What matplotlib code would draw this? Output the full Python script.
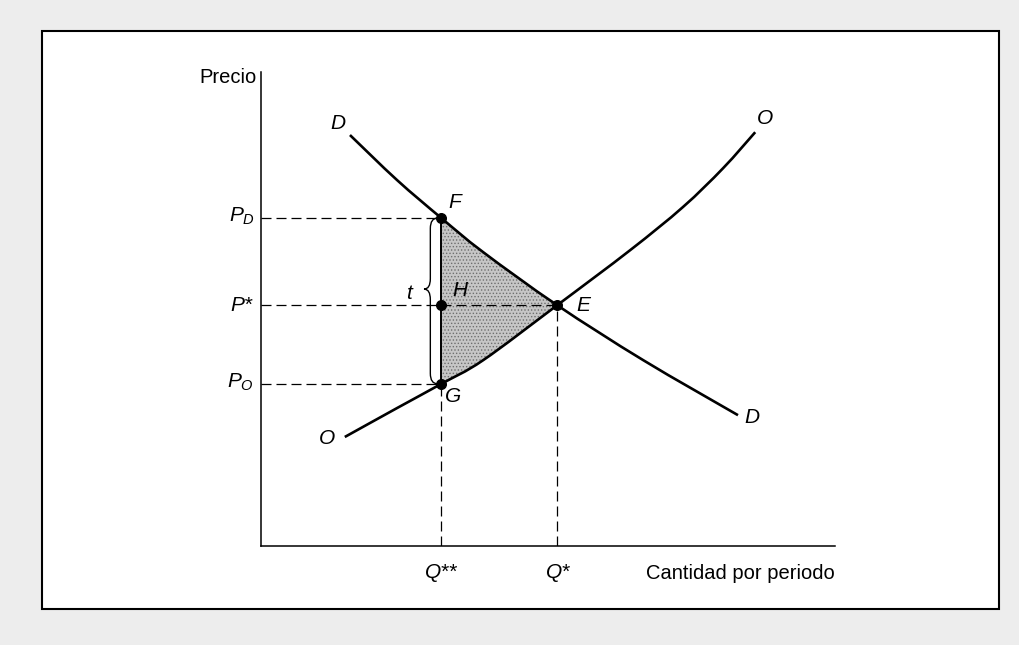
import numpy as np
import matplotlib
matplotlib.use("Agg")
import matplotlib.pyplot as plt
from matplotlib.patches import Rectangle, PathPatch, Polygon
from matplotlib.path import Path

plt.rcParams['font.family'] = ['Liberation Sans', 'DejaVu Sans']
plt.rcParams['mathtext.fontset'] = 'custom'
plt.rcParams['mathtext.rm'] = 'Liberation Sans'
plt.rcParams['mathtext.it'] = 'Liberation Sans:italic'
plt.rcParams['hatch.linewidth'] = 0.6

# curves (quantity, price), axes run 0..10
demand_q = [1.55, 2.37, 3.14, 3.87, 5.16, 6.66, 8.31]
demand_p = [8.67, 7.72, 6.92, 6.20, 5.08, 3.92, 2.76]
supply_q = [1.46, 2.37, 3.14, 3.87, 5.16, 6.43, 7.35, 8.05, 8.61]
supply_p = [2.30, 2.91, 3.42, 3.92, 5.08, 6.24, 7.15, 7.97, 8.73]

q_tax = 3.14     # Q**
q_eq = 5.16      # Q*
p_dem = 6.92     # P_D
p_eq = 5.08      # P*
p_sup = 3.42     # P_O


def smooth_path(qs, ps):
    # bezier path through the read points (catmull-rom handles)
    pts = np.column_stack([qs, ps])
    n = len(pts)
    verts = [pts[0]]
    codes = [Path.MOVETO]
    for i in range(n - 1):
        p0 = pts[max(i - 1, 0)]
        p1, p2 = pts[i], pts[i + 1]
        p3 = pts[min(i + 2, n - 1)]
        verts += [p1 + (p2 - p0) / 6, p2 - (p3 - p1) / 6, p2]
        codes += [Path.CURVE4] * 3
    return Path(verts, codes)


fig = plt.figure(figsize=(10.2, 6.45), dpi=100, facecolor='#ededed')
fig.add_artist(Rectangle((42 / 1020, 36 / 645), 957 / 1020, 578 / 645,
                         transform=fig.transFigure, facecolor='white',
                         edgecolor='black', lw=1.5, zorder=-1))

ax = fig.add_axes([261 / 1020, 99 / 645, 574 / 1020, 474 / 645])
ax.set_xlim(0, 10)
ax.set_ylim(0, 10)
ax.patch.set_alpha(0)
for s in ['top', 'right']:
    ax.spines[s].set_visible(False)
for s in ['left', 'bottom']:
    ax.spines[s].set_linewidth(1.1)
ax.set_xticks([])
ax.set_yticks([])

# deadweight triangle F-E-G
tri = [(q, p) for q, p in zip(demand_q, demand_p) if q_tax <= q <= q_eq]
tri += [(q, p) for q, p in zip(supply_q, supply_p) if q_tax <= q <= q_eq][::-1]
ax.add_patch(Polygon(tri, closed=True, facecolor='#c6c6c6', edgecolor='#6e6e6e',
                     hatch='.....', lw=0, zorder=1))

for qs, ps in [(demand_q, demand_p), (supply_q, supply_p)]:
    ax.add_patch(PathPatch(smooth_path(qs, ps), facecolor='none',
                           edgecolor='black', lw=1.9, zorder=3))

dash = dict(color='black', lw=0.9, dashes=(8, 4), zorder=2)
ax.plot([0, q_tax], [p_dem, p_dem], **dash)
ax.plot([0, q_eq], [p_eq, p_eq], **dash)
ax.plot([0, q_tax], [p_sup, p_sup], **dash)
ax.plot([q_tax, q_tax], [0, p_sup], **dash)
ax.plot([q_eq, q_eq], [0, p_eq], **dash)
ax.plot([q_tax, q_tax], [p_sup, p_dem], color='black', lw=1.4, zorder=3)

ax.scatter([q_tax, q_tax, q_tax, q_eq], [p_dem, p_eq, p_sup, p_eq],
           s=48, color='black', zorder=5)

# brace for the tax t
xr, xb, xt = q_tax - 0.06, q_tax - 0.19, q_tax - 0.30
yt, r = 5.42, 0.22
verts = [(xr, p_dem), (xb, p_dem), (xb, p_dem - r), (xb, yt + r),
         (xb, yt), (xt, yt), (xb, yt), (xb, yt - r), (xb, p_sup + r),
         (xb, p_sup), (xr, p_sup)]
codes = [Path.MOVETO, Path.CURVE3, Path.CURVE3, Path.LINETO,
         Path.CURVE3, Path.CURVE3, Path.CURVE3, Path.CURVE3, Path.LINETO,
         Path.CURVE3, Path.CURVE3]
ax.add_patch(PathPatch(Path(verts, codes), facecolor='none', edgecolor='black',
                       lw=1.0, zorder=3))

fs = 15
lab = dict(textcoords='offset points', fontsize=fs, ha='center', va='center',
           style='italic', annotation_clip=False)
ax.annotate('F', (q_tax, p_dem), xytext=(9.5, 11.5), **lab)
ax.annotate('H', (q_tax, p_eq), xytext=(13.5, 10.5), **lab)
ax.annotate('G', (q_tax, p_sup), xytext=(8.6, -9.4), **lab)
ax.annotate('E', (q_eq, p_eq), xytext=(18.5, 0), **lab)
ax.annotate('t', (q_tax, p_eq), xytext=(-23.5, 8.6), **lab)
ax.annotate('D', (demand_q[0], demand_p[0]), xytext=(-9, 8), **lab)
ax.annotate('D', (demand_q[-1], demand_p[-1]), xytext=(10, -1.5), **lab)
ax.annotate('O', (supply_q[0], supply_p[0]), xytext=(-12.5, -1.4), **lab)
ax.annotate('O', (supply_q[-1], supply_p[-1]), xytext=(7, 10), **lab)

plab = dict(textcoords='offset points', fontsize=fs, ha='right', va='center',
            annotation_clip=False)
ax.annotate(r'$P_D$', (0, p_dem), xytext=(-4, 1), **plab)
ax.annotate('P*', (0, p_eq), xytext=(-6, 0), style='italic', **plab)
ax.annotate(r'$P_O$', (0, p_sup), xytext=(-5, 1), **plab)
ax.annotate('Precio', (0, 10), xytext=(-3.5, -4), textcoords='offset points',
            fontsize=14.5, ha='right', va='center', annotation_clip=False)

qlab = dict(textcoords='offset points', fontsize=fs, ha='center', va='center',
            style='italic', annotation_clip=False)
ax.annotate('Q**', (q_tax, 0), xytext=(0, -19), **qlab)
ax.annotate('Q*', (q_eq, 0), xytext=(1, -19), **qlab)
ax.annotate('Cantidad por periodo', (10, 0), xytext=(0, -19.5),
            textcoords='offset points', fontsize=14.5, ha='right', va='center',
            annotation_clip=False)

fig.savefig('out.png', dpi=100, facecolor=fig.get_facecolor())
